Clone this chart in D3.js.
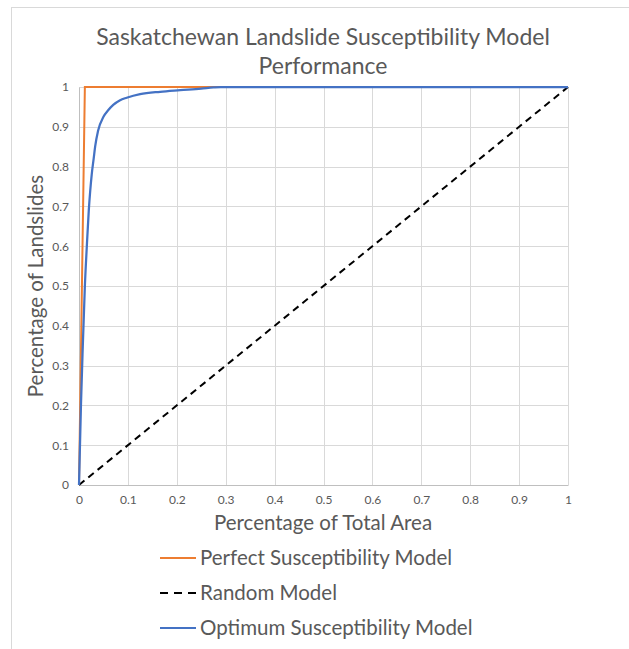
<!DOCTYPE html>
<html>
<head>
<meta charset="utf-8">
<script src="https://d3js.org/d3.v7.min.js"></script>
<style>
  body { margin: 0; background: #fff; }
  text { font-family: Lato, "Open Sans", sans-serif; }
</style>
</head>
<body>
<div id="chart"></div>
<script>
// Data
const ticks = [0, 0.1, 0.2, 0.3, 0.4, 0.5, 0.6, 0.7, 0.8, 0.9, 1];

const perfectX = [0, 0.012, 1];
const perfectY = [0, 1, 1];

const randomX = [0, 1];
const randomY = [0, 1];

const optimumX = [0, 0.004, 0.0075, 0.012, 0.016, 0.02, 0.023, 0.026, 0.03, 0.033, 0.039, 0.05, 0.06, 0.07, 0.084, 0.0975, 0.125, 0.166, 0.207, 0.25, 0.275, 0.29, 1];
const optimumY = [0, 0.2, 0.34, 0.5, 0.6, 0.69, 0.74, 0.78, 0.82, 0.85, 0.89, 0.925, 0.942, 0.955, 0.967, 0.973, 0.982, 0.988, 0.992, 0.996, 0.999, 1, 1];

const seriesNames = ["Perfect Susceptibility Model", "Random Model", "Optimum Susceptibility Model"];
const seriesColors = ["#ED7D31", "#000000", "#4472C4"];

const W = 629, H = 649;
const margin = { top: 87, left: 79 },
      width = 568 - 79,
      height = 485 - 87;

const svg = d3.select("#chart")
  .append("svg")
  .attr("width", W)
  .attr("height", H);

// chart frame (runs off the picture on the right and bottom)
svg.append("rect")
  .attr("x", 11.5)
  .attr("y", 7.5)
  .attr("width", 700)
  .attr("height", 700)
  .attr("fill", "none")
  .attr("stroke", "#d9d9d9");

const g = svg.append("g")
  .attr("transform", `translate(${margin.left},${margin.top})`);

const x = d3.scaleLinear().domain([0, 1]).range([0, width]);
const y = d3.scaleLinear().domain([0, 1]).range([height, 0]);

// gridlines
g.append("g")
  .selectAll("line")
  .data(ticks)
  .join("line")
  .attr("x1", d => Math.round(x(d)) + 0.5)
  .attr("x2", d => Math.round(x(d)) + 0.5)
  .attr("y1", 0)
  .attr("y2", height)
  .attr("stroke", "#d9d9d9");

g.append("g")
  .selectAll("line")
  .data(ticks)
  .join("line")
  .attr("x1", 0)
  .attr("x2", width)
  .attr("y1", d => Math.round(y(d)) + 0.5)
  .attr("y2", d => Math.round(y(d)) + 0.5)
  .attr("stroke", "#d9d9d9");

// axes
const xAxis = g.append("g")
  .attr("transform", `translate(0,${height})`)
  .call(d3.axisBottom(x).tickValues(ticks).tickSize(0).tickPadding(10).tickFormat(d3.format("")));
const yAxis = g.append("g")
  .call(d3.axisLeft(y).tickValues(ticks).tickSize(0).tickPadding(10).tickFormat(d3.format("")));

[xAxis, yAxis].forEach(a => {
  a.select(".domain").attr("stroke", "#bfbfbf");
  a.selectAll("text")
    .attr("fill", "#595959")
    .style("font-size", "12px");
});

// series
const line = d3.line()
  .x(d => x(d[0]))
  .y(d => y(d[1]));

const perfect = perfectX.map((v, i) => [v, perfectY[i]]);
const random = randomX.map((v, i) => [v, randomY[i]]);
const optimum = optimumX.map((v, i) => [v, optimumY[i]]);

g.append("path")
  .datum(random)
  .attr("d", line)
  .attr("fill", "none")
  .attr("stroke", seriesColors[1])
  .attr("stroke-width", 2)
  .attr("stroke-dasharray", "7,5");

g.append("path")
  .datum(perfect)
  .attr("d", line)
  .attr("fill", "none")
  .attr("stroke", seriesColors[0])
  .attr("stroke-width", 2);

g.append("path")
  .datum(optimum)
  .attr("d", d3.line().x(d => x(d[0])).y(d => y(d[1])).curve(d3.curveMonotoneX))
  .attr("fill", "none")
  .attr("stroke", seriesColors[2])
  .attr("stroke-width", 2.25);

// title
const title = svg.append("text")
  .attr("text-anchor", "middle")
  .attr("fill", "#595959")
  .style("font-size", "23px");
title.append("tspan").attr("x", 323).attr("y", 45).text("Saskatchewan Landslide Susceptibility Model");
title.append("tspan").attr("x", 323).attr("y", 74).text("Performance");

// axis titles
svg.append("text")
  .attr("x", 323)
  .attr("y", 530)
  .attr("text-anchor", "middle")
  .attr("fill", "#595959")
  .style("font-size", "20.5px")
  .text("Percentage of Total Area");

svg.append("text")
  .attr("transform", "translate(43,286) rotate(-90)")
  .attr("text-anchor", "middle")
  .attr("fill", "#595959")
  .style("font-size", "20.5px")
  .text("Percentage of Landslides");

// legend
const legend = svg.append("g");
seriesNames.forEach((name, i) => {
  const ly = 558 + i * 35;
  legend.append("line")
    .attr("x1", 160)
    .attr("x2", 196)
    .attr("y1", ly)
    .attr("y2", ly)
    .attr("stroke", seriesColors[i])
    .attr("stroke-width", 2)
    .attr("stroke-dasharray", i === 1 ? "8,6" : null);
  legend.append("text")
    .attr("x", 200)
    .attr("y", ly + 7)
    .attr("fill", "#595959")
    .style("font-size", "20.5px")
    .text(name);
});
</script>
</body>
</html>
